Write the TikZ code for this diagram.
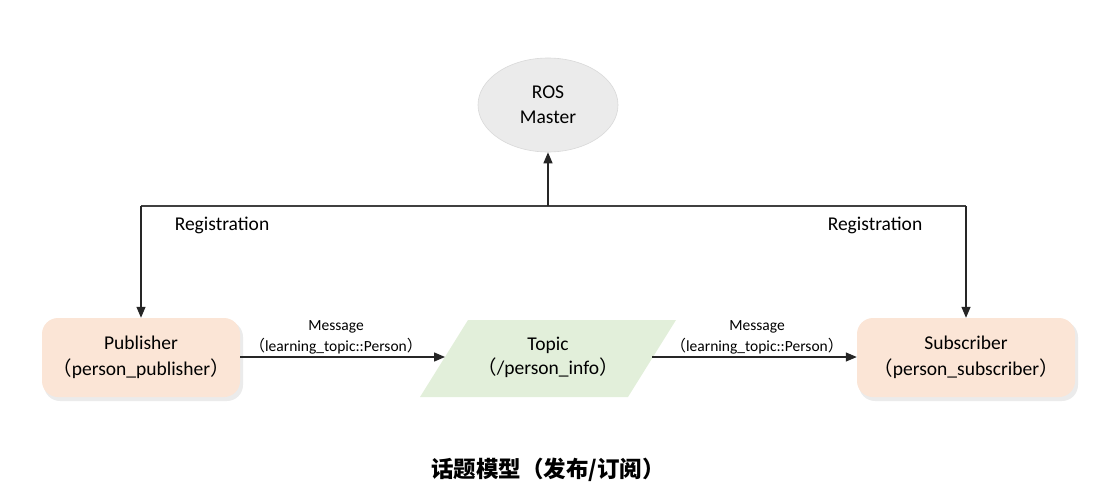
\documentclass[tikz,border=0pt]{standalone}
\usepackage{fontspec}
\setmainfont{Carlito}
\newfontfamily\cjk{Noto Sans CJK SC}
\usetikzlibrary{arrows.meta,shapes.geometric}
\definecolor{peach}{HTML}{FBE5D6}
\definecolor{topicgreen}{HTML}{E2EFDA}
\definecolor{mastergray}{HTML}{EBEBEB}
\tikzset{
  arr/.style={draw=black!85,line width=1.3pt,-{Triangle[width=9pt,length=11pt]}},
  ln/.style={draw=black!75,line width=1.3pt},
  nodebox/.style={rounded corners=16pt,fill=peach,minimum width=198pt,minimum height=79pt,align=center,font=\fontsize{19.5}{26}\selectfont},
  lbl/.style={font=\fontsize{19.5}{22}\selectfont},
  msg/.style={font=\fontsize{15.5}{21}\selectfont,align=center},
}
\begin{document}
\begin{tikzpicture}[x=1pt,y=-1pt]
\useasboundingbox (0,0) rectangle (1108,495);
% shadows
\fill[black!8,rounded corners=16pt] (44,321) rectangle (243,401);
\fill[black!8,rounded corners=16pt] (859,321) rectangle (1078,401);
% ROS Master
\node[ellipse,fill=mastergray,draw=black!15,line width=0.6pt,minimum width=140pt,minimum height=94pt,align=center,font=\fontsize{19.5}{25}\selectfont] (master) at (548,105) {ROS\\Master};
% Publisher / Subscriber
\node[nodebox] (pub) at (141,357.5) {Publisher\\{\cjk （}person\_publisher{\cjk ）}};
\node[nodebox,minimum width=218pt] (sub) at (966,357.5) {Subscriber\\{\cjk （}person\_subscriber{\cjk ）}};
% Topic parallelogram
\coordinate (tbl) at (420,397);
\coordinate (ttl) at (468,320);
\coordinate (ttr) at (676,320);
\coordinate (tbr) at (628,397);
\fill[topicgreen] (tbl) -- (ttl) -- (ttr) -- (tbr) -- cycle;
\coordinate (tin) at (445,357);
\coordinate (tout) at (652,357);
\node[align=center,font=\fontsize{19.5}{24}\selectfont] (topic) at (548,357) {Topic\\{\cjk （}/person\_info{\cjk ）}};
% registration lines
\coordinate (jl) at (141,206);
\coordinate (jr) at (966,206);
\coordinate (jm) at (548,206);
\draw[ln] (jl) -- (jr);
\draw[arr] (jm) -- (master.south);
\draw[arr] (jl) -- (pub.north);
\draw[arr] (jr) -- (sub.north);
\node[lbl] (regl) at (222,225) {Registration};
\node[lbl] (regr) at (875,225) {Registration};
% messages
\draw[arr] (pub.east |- tin) -- (tin);
\draw[arr] (tout) -- (sub.west |- tout);
\node[msg] (msgl) at (336,337) {Message\\{\cjk （}learning\_topic::Person{\cjk ）}};
\node[msg] (msgr) at (757,337) {Message\\{\cjk （}learning\_topic::Person{\cjk ）}};
% title
\node[font=\cjk\bfseries\fontsize{22.5}{26}\selectfont] (title) at (548,470) {话题模型（发布/订阅）};
\end{tikzpicture}
\end{document}
